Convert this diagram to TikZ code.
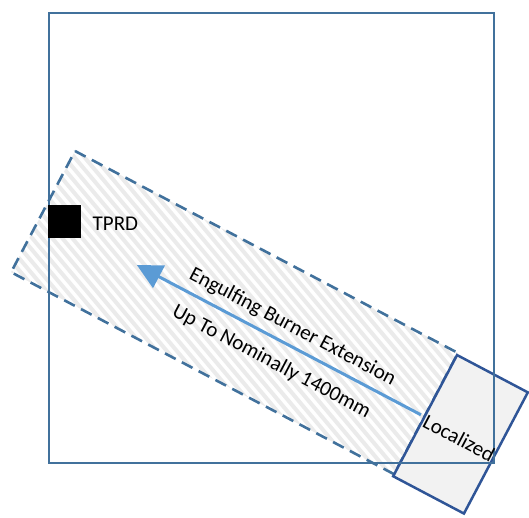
\documentclass[tikz,border=0pt]{standalone}
\usepackage{fontspec}
\setmainfont{Carlito}
\usetikzlibrary{arrows.meta}
\definecolor{frameblue}{HTML}{41719C}
\definecolor{locblue}{HTML}{2F5597}
\definecolor{arrowblue}{HTML}{5B9BD5}
\definecolor{stripegray}{HTML}{EBEBEB}
\definecolor{locfill}{HTML}{F2F2F2}
\tikzset{
  lbl/.style={font=\fontsize{21}{25}\selectfont, inner sep=0pt, text=black},
  framebox/.style={draw=frameblue, line width=2pt, minimum width=445pt, minimum height=450pt, inner sep=0pt, anchor=north west},
  zoneline/.style={draw=frameblue, line width=2.6pt, dash pattern=on 12pt off 7pt},
  stripe/.style={draw=stripegray, line width=4pt},
  locbox/.style={draw=locblue, line width=2.5pt, fill=locfill, minimum width=80pt, minimum height=137pt, inner sep=0pt, rotate=-27.8},
  tprdbox/.style={fill=black, minimum size=33pt, inner sep=0pt, anchor=north west},
  flow/.style={draw=arrowblue, line width=3pt, -{Triangle[length=25pt,width=25pt]}},
}
\begin{document}
\begin{tikzpicture}[x=1pt,y=-1pt]
\useasboundingbox (0,0) rectangle (529,517);
% engulfing zone corners
\coordinate (z1) at (75,151);
\coordinate (z2) at (458,353);
\coordinate (z3) at (394.1,474.2);
\coordinate (z4) at (11.1,272.2);
\begin{scope}
  \clip (z1) -- (z2) -- (z3) -- (z4) -- cycle;
  \foreach \x in {-320,-310,...,480} \draw[stripe] (\x,140) -- ++(285,340);
\end{scope}
\draw[zoneline] (z1) -- (z2) -- (z3) -- (z4) -- cycle;
% arrow
\coordinate (ae) at (420.9,414.8);
\coordinate (at) at (136.9,265.1);
\draw[flow] (ae) -- (at);
\node[lbl, rotate=-27.8] (eng) at (292.5,327) {Engulfing Burner Extension};
\node[lbl, rotate=-27.8] (upto) at (271.5,362) {Up To Nominally 1400mm};
% localized box
\node[locbox] (loc) at (460.5,434.3) {};
% room outline
\node[framebox] (room) at (48,12) {};
\node[lbl, rotate=-27.8] (loclbl) at (459,438) {Localized};
% TPRD
\node[tprdbox] (tprd) at (48,205) {};
\node[lbl, anchor=west] (tprdlbl) at (92.5,224) {TPRD};
\end{tikzpicture}
\end{document}
